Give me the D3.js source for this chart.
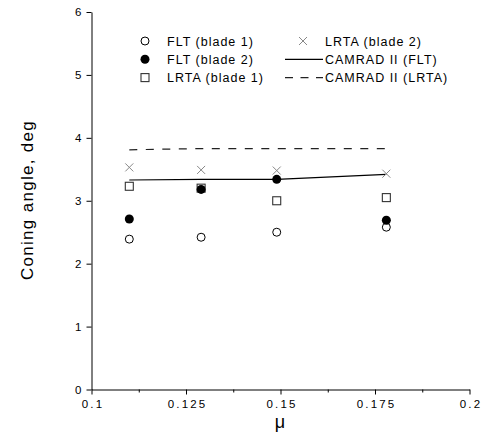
<!DOCTYPE html>
<html>
<head>
<meta charset="utf-8">
<script src="https://cdn.jsdelivr.net/npm/d3@7"></script>
<style>
  html, body { margin: 0; padding: 0; background: #fff; }
  svg { display: block; font-family: "Liberation Sans", Arial, sans-serif; }
</style>
</head>
<body>
<svg id="chart" width="487" height="438"></svg>
<script>
// ---- data ----
const mu = [0.110, 0.129, 0.149, 0.178];
const fltBlade1 = [2.39, 2.42, 2.50, 2.58];
const fltBlade2 = [2.71, 3.18, 3.34, 2.69];
const lrtaBlade1 = [3.23, 3.20, 3.00, 3.05];
const lrtaBlade2 = [3.53, 3.49, 3.48, 3.43];
const camradFlt = [3.33, 3.34, 3.34, 3.42];
const camradLrta = [3.81, 3.83, 3.83, 3.83];
const xTicks = [0.1, 0.125, 0.15, 0.175, 0.2];
const xMinorTicks = [0.1125, 0.1375, 0.1625, 0.1875];
const yTicks = [0, 1, 2, 3, 4, 5, 6];
const legendCol1 = ["FLT (blade 1)", "FLT (blade 2)", "LRTA (blade 1)"];
const legendCol2 = ["LRTA (blade 2)", "CAMRAD II (FLT)", "CAMRAD II (LRTA)"];

const svg = d3.select("#chart");
const x = d3.scaleLinear().domain([0.1, 0.2]).range([91.5, 469.5]);
const y = d3.scaleLinear().domain([0, 6]).range([389.5, 12]);

// ---- axes ----
const xAxis = svg.append("g").attr("transform", "translate(0,389.5)")
  .call(d3.axisBottom(x).tickValues(xTicks).tickSizeInner(5).tickSizeOuter(0)
    .tickPadding(5.5).tickFormat(d => String(d)));
const xMinor = svg.append("g").attr("transform", "translate(0,389.5)")
  .call(d3.axisBottom(x).tickValues(xMinorTicks).tickSizeInner(3).tickSizeOuter(0).tickFormat(""));
xMinor.select(".domain").remove();
const yAxis = svg.append("g").attr("transform", "translate(91.5,0)")
  .call(d3.axisLeft(y).tickValues(yTicks).tickSizeInner(5).tickSizeOuter(0).tickPadding(5)
    .tickFormat(d3.format("d")));

[xAxis, xMinor, yAxis].forEach(g => {
  g.selectAll(".domain").attr("stroke", "#000").attr("stroke-width", 1);
  g.selectAll(".tick line").attr("stroke", "#000").attr("stroke-width", 1);
});
xAxis.selectAll(".tick text").attr("font-size", 11.5).attr("fill", "#000")
  .attr("letter-spacing", "2.1px").attr("dx", "1px")
  .attr("font-family", "Liberation Sans, Arial, sans-serif");
yAxis.selectAll(".tick text").attr("font-size", 11.5).attr("fill", "#000")
  .attr("font-family", "Liberation Sans, Arial, sans-serif");

// axis titles
svg.append("text").attr("x", 280).attr("y", 428).attr("text-anchor", "middle")
  .attr("font-size", 18).attr("fill", "#000").text("μ");
svg.append("text").attr("transform", "translate(33,200) rotate(-90)")
  .attr("text-anchor", "middle").attr("font-size", 17).attr("letter-spacing", "1.3px")
  .attr("fill", "#000").text("Coning angle, deg");

// ---- lines ----
const pts = vals => vals.map((v, i) => [mu[i], v]);
const line = d3.line().x(d => x(d[0])).y(d => y(d[1]));
svg.append("path").attr("d", line(pts(camradLrta))).attr("fill", "none")
  .attr("stroke", "#222").attr("stroke-width", 1.2).attr("stroke-dasharray", "8,8.5");
svg.append("path").attr("d", line(pts(camradFlt))).attr("fill", "none")
  .attr("stroke", "#000").attr("stroke-width", 1.2);

// ---- markers ----
const sq = 8;
svg.append("g").selectAll("rect").data(pts(lrtaBlade1)).join("rect")
  .attr("x", d => x(d[0]) - sq / 2).attr("y", d => y(d[1]) - sq / 2)
  .attr("width", sq).attr("height", sq).attr("fill", "#fff")
  .attr("stroke", "#333").attr("stroke-width", 1.1);
svg.append("g").selectAll("circle").data(pts(fltBlade1)).join("circle")
  .attr("cx", d => x(d[0])).attr("cy", d => y(d[1])).attr("r", 4)
  .attr("fill", "#fff").attr("stroke", "#000").attr("stroke-width", 1);
svg.append("g").selectAll("circle").data(pts(fltBlade2)).join("circle")
  .attr("cx", d => x(d[0])).attr("cy", d => y(d[1])).attr("r", 4.5)
  .attr("fill", "#000").attr("stroke", "none");
const cross = (g, cx, cy, s) => g.append("path")
  .attr("d", `M${cx - s},${cy - s}L${cx + s},${cy + s}M${cx - s},${cy + s}L${cx + s},${cy - s}`)
  .attr("stroke", "#888").attr("stroke-width", 1).attr("fill", "none");
const crossG = svg.append("g");
pts(lrtaBlade2).forEach(d => cross(crossG, x(d[0]), y(d[1]), 4));

// ---- legend ----
const rowY = [41, 59.3, 77.6];
const leg = svg.append("g").attr("font-size", 12.5).attr("letter-spacing", "1px").attr("fill", "#000");
leg.append("circle").attr("cx", 145).attr("cy", rowY[0]).attr("r", 4)
  .attr("fill", "#fff").attr("stroke", "#000");
leg.append("circle").attr("cx", 145).attr("cy", rowY[1]).attr("r", 4.5).attr("fill", "#000");
leg.append("rect").attr("x", 141).attr("y", rowY[2] - 4).attr("width", 8).attr("height", 8)
  .attr("fill", "#fff").attr("stroke", "#333").attr("stroke-width", 1.1);
cross(leg, 303, rowY[0], 4);
leg.append("line").attr("x1", 285).attr("x2", 323).attr("y1", rowY[1]).attr("y2", rowY[1])
  .attr("stroke", "#000").attr("stroke-width", 1.2);
leg.append("line").attr("x1", 285).attr("x2", 323).attr("y1", rowY[2]).attr("y2", rowY[2])
  .attr("stroke", "#222").attr("stroke-width", 1.2).attr("stroke-dasharray", "8,7.5");
leg.selectAll("text.c1").data(legendCol1).join("text").attr("class", "c1")
  .attr("x", 167).attr("y", (d, i) => rowY[i] + 4.5).text(d => d);
leg.selectAll("text.c2").data(legendCol2).join("text").attr("class", "c2")
  .attr("x", 325).attr("y", (d, i) => rowY[i] + 4.5).text(d => d);
</script>
</body>
</html>
